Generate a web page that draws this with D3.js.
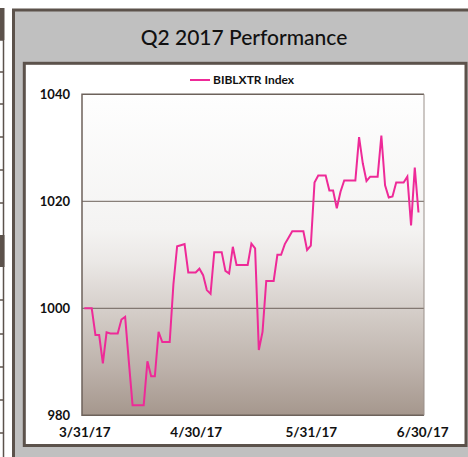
<!DOCTYPE html>
<html>
<head>
<meta charset="utf-8">
<script src="https://cdn.jsdelivr.net/npm/d3@7"></script>
<style>
  html, body { margin: 0; padding: 0; background: #ffffff; }
  svg { display: block; }
  text { font-family: Lato, "Open Sans", sans-serif; fill: #111; }
</style>
</head>
<body>
<svg id="chart" width="468" height="457"></svg>
<script>
// Series: BIBLXTR Index, daily closes (weekends / holidays carry the prior close)
const seriesName = "BIBLXTR Index";
const firstDay = "2017-03-31";
const lastDay = "2017-06-29";
const indexValues = [
  1000.0, 1000.0, 1000.0, 995.0, 995.0, 989.7, 995.5, 995.3, 995.3, 995.3,
  997.9, 998.4, 990.0, 981.9, 981.9, 981.9, 981.9, 990.1, 987.3, 987.3,
  995.6, 993.7, 993.7, 993.7, 1004.5, 1011.6, 1011.8, 1012.0, 1006.7, 1006.7,
  1006.7, 1007.4, 1006.2, 1003.4, 1002.7, 1010.5, 1010.5, 1010.5, 1007.0, 1006.5,
  1011.5, 1008.1, 1008.1, 1008.1, 1008.1, 1012.1, 1011.2, 992.2, 995.6, 1005.1,
  1005.1, 1005.1, 1010.0, 1010.0, 1012.0, 1013.2, 1014.4, 1014.4, 1014.4, 1014.4,
  1010.9, 1011.7, 1023.5, 1024.8, 1024.8, 1024.8, 1022.0, 1022.0, 1018.7, 1021.8,
  1023.9, 1023.9, 1023.9, 1023.9, 1032.0, 1027.1, 1023.8, 1024.6, 1024.6, 1024.6,
  1032.3, 1023.0, 1020.7, 1020.9, 1023.5, 1023.5, 1023.5, 1024.6, 1015.5, 1026.3,
  1017.9
];
const yTicks = [980, 1000, 1020, 1040];
const gridValues = [1000, 1020];
const xTickLabels = ["2017-03-31", "2017-04-30", "2017-05-31", "2017-06-30"];
const titleText = "Q2 2017 Performance";

const parse = d3.utcParse("%Y-%m-%d");
const days = d3.utcDay.range(parse(firstDay), d3.utcDay.offset(parse(lastDay), 1));
const data = days.map((d, i) => ({ date: d, value: indexValues[i] }));

const svg = d3.select("#chart");
const frame = "#5c524b";

// neighbouring table edge on the far left
const side = svg.append("g");
side.append("rect").attr("x", 0).attr("y", 8).attr("width", 4.5).attr("height", 32).attr("fill", frame);
side.append("rect").attr("x", 0).attr("y", 235).attr("width", 4.5).attr("height", 32).attr("fill", frame);
side.append("line").attr("x1", 3.5).attr("x2", 3.5).attr("y1", 40).attr("y2", 457)
  .attr("stroke", frame).attr("stroke-width", 1.5);
[40, 72, 104, 137, 170, 203, 300, 334, 367, 400, 433].forEach(y => {
  side.append("line").attr("x1", 0).attr("x2", 4).attr("y1", y).attr("y2", y)
    .attr("stroke", frame).attr("stroke-width", 1.5);
});

// outer grey panel and inner white card
svg.append("rect").attr("x", 13.5).attr("y", 10).attr("width", 470).attr("height", 470)
  .attr("fill", "#c0c0c0").attr("stroke", frame).attr("stroke-width", 3);
svg.append("rect").attr("x", 24.3).attr("y", 63.3).attr("width", 441.7).attr("height", 382.2)
  .attr("fill", "#ffffff").attr("stroke", frame).attr("stroke-width", 3);

svg.append("text").attr("x", 244).attr("y", 45).attr("text-anchor", "middle")
  .style("font-size", "21px").style("font-weight", 500).text(titleText);

// plot area
const plot = { left: 82, right: 424, top: 94.3, bottom: 415.3 };
const x = d3.scaleUtc()
  .domain([parse(xTickLabels[0]), parse(xTickLabels[3])])
  .range([84.3, 422.2]);
const y = d3.scaleLinear().domain([980, 1040]).range([plot.bottom, plot.top]);

const defs = svg.append("defs");
const grad = defs.append("linearGradient").attr("id", "plotFill")
  .attr("x1", 0).attr("y1", 0).attr("x2", 0).attr("y2", 1);
[[0, "#fefefe"], [0.42, "#f4f3f2"], [0.52, "#ebe8e6"], [0.68, "#d4cdc8"], [0.85, "#bdb2ab"], [1, "#a5978d"]]
  .forEach(([o, c]) => grad.append("stop").attr("offset", o).attr("stop-color", c));

svg.append("rect").attr("x", plot.left).attr("y", plot.top)
  .attr("width", plot.right - plot.left).attr("height", plot.bottom - plot.top)
  .attr("fill", "url(#plotFill)");

svg.append("g").selectAll("line").data(gridValues).join("line")
  .attr("x1", plot.left).attr("x2", plot.right)
  .attr("y1", d => y(d)).attr("y2", d => y(d))
  .attr("stroke", "#6d625b").attr("stroke-width", 1);

// plot border: dark on left/top/bottom, lighter on the right
svg.append("path")
  .attr("d", `M${plot.right},${plot.top}H${plot.left}V${plot.bottom}H${plot.right}`)
  .attr("fill", "none").attr("stroke", "#6d625b").attr("stroke-width", 1.5);
svg.append("line").attr("x1", plot.right).attr("x2", plot.right)
  .attr("y1", plot.top).attr("y2", plot.bottom)
  .attr("stroke", "#9a908a").attr("stroke-width", 1);

// axes
const yAxis = svg.append("g").attr("transform", `translate(${plot.left},0)`)
  .call(d3.axisLeft(y).tickValues(yTicks).tickSize(0).tickPadding(12).tickFormat(d3.format("d")));
yAxis.select(".domain").remove();
yAxis.selectAll("text").style("font-size", "13px").style("font-weight", 700)
  .style("font-family", "Lato, sans-serif").attr("fill", "#111");

const fmt = d3.utcFormat("%-m/%-d/%y");
const xAxis = svg.append("g").attr("transform", `translate(0,${plot.bottom})`)
  .call(d3.axisBottom(x).tickValues(xTickLabels.map(parse)).tickSize(0).tickFormat(fmt));
xAxis.select(".domain").remove();
xAxis.selectAll("text").attr("dy", null).attr("y", 21.4)
  .style("font-size", "13.5px").style("font-weight", 700)
  .style("font-family", "Lato, sans-serif").attr("fill", "#111");

// series line
const pink = "#ee2a98";
const line = d3.line().x(d => x(d.date)).y(d => y(d.value));
svg.append("path").datum(data).attr("d", line)
  .attr("fill", "none").attr("stroke", pink).attr("stroke-width", 2)
  .attr("stroke-linejoin", "miter");

// legend
const legend = svg.append("g");
legend.append("line").attr("x1", 190).attr("x2", 210).attr("y1", 80).attr("y2", 80)
  .attr("stroke", pink).attr("stroke-width", 2);
legend.append("text").attr("x", 213).attr("y", 84.3)
  .style("font-size", "12px").style("font-weight", 700).text(seriesName);
</script>
</body>
</html>
